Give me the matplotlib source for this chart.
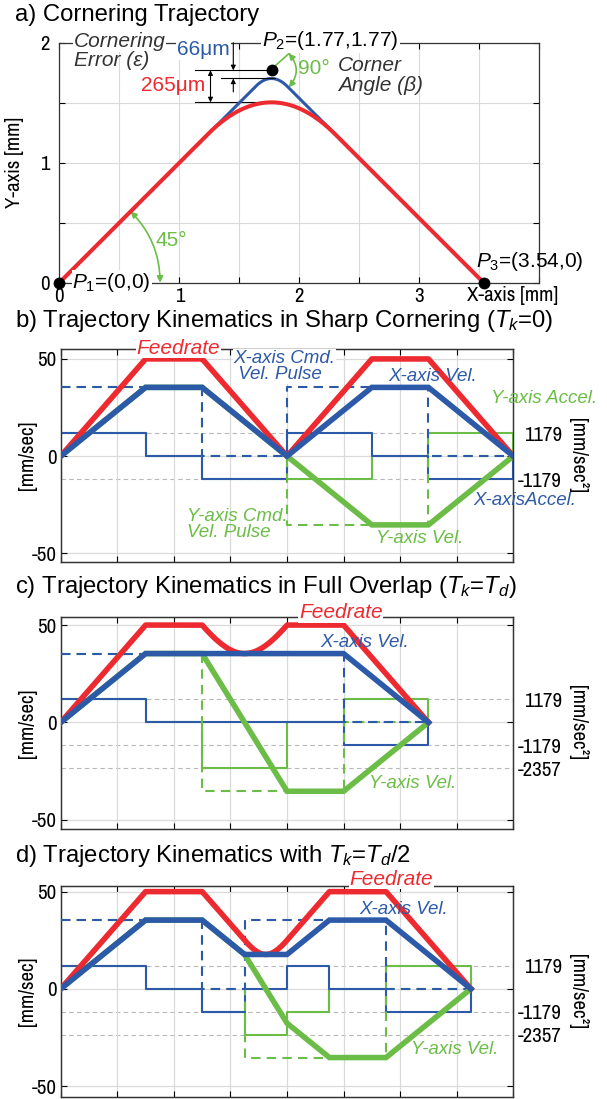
import numpy as np
import matplotlib
matplotlib.use('Agg')
import matplotlib.pyplot as plt
from matplotlib import font_manager as fm
from matplotlib.patches import FancyArrowPatch

RED = '#ec2a2f'
BLUE = '#2d5aa8'
GREEN = '#6cbd47'
GRID = '#dadada'
DGRID = '#b8b8b8'
INK = '#333333'

# narrow face for ticks / axis labels (falls back to a smaller regular face)
font_names = {f.name for f in fm.fontManager.ttflist}
WIDE = ['Liberation Sans', 'DejaVu Sans']
NARROW = ['Liberation Sans', 'DejaVu Sans']
TS = 13
for cand in ['Liberation Sans Narrow', 'Archivo Narrow', 'Roboto Condensed', 'Sofia Sans Condensed']:
    if cand in font_names:
        NARROW = [cand, 'DejaVu Sans']
        TS = 15
        break
plt.rcParams['font.family'] = NARROW
plt.rcParams['axes.unicode_minus'] = False
plt.rcParams['mathtext.fontset'] = 'custom'
plt.rcParams['mathtext.rm'] = 'Liberation Sans'
plt.rcParams['mathtext.it'] = 'Liberation Sans:italic'

# ---- data: time in ms, velocity in mm/sec, acceleration in mm/sec^2 ----
# a) corner points [mm]
corner_x = [0, 1.77, 3.54]
corner_y = [0, 1.77, 0]

# b) sharp cornering (Tk = 0)
t_b = [0, 30, 50, 80, 110, 130, 160]
vx_b = [0, 35.36, 35.36, 0, 35.36, 35.36, 0]
vy_b = [0, 35.36, 35.36, 0, -35.36, -35.36, 0]
accx_b = [1179, 0, -1179, 1179, 0, -1179, 0]
accy_b = [1179, 0, -1179, -1179, 0, 1179, 0]
tp_b = [0, 50, 80, 130, 160]
px_b = [35.36, 0, 35.36, 0, 0]
py_b = [35.36, 0, -35.36, 0, 0]

# c) full overlap (Tk = Td)
t_c = [0, 30, 50, 80, 100, 130]
vx_c = [0, 35.36, 35.36, 35.36, 35.36, 0]
vy_c = [0, 35.36, 35.36, -35.36, -35.36, 0]
accx_c = [1179, 0, 0, 0, -1179, 0]
accy_c = [1179, 0, -2357, 0, 1179, 0]
tp_c = [0, 50, 100, 130]
px_c = [35.36, 35.36, 0, 0]
py_c = [35.36, -35.36, 0, 0]

# d) half overlap (Tk = Td/2)
t_d = [0, 30, 50, 65, 80, 95, 115, 145]
vx_d = [0, 35.36, 35.36, 17.68, 17.68, 35.36, 35.36, 0]
vy_d = [0, 35.36, 35.36, 17.68, -17.68, -35.36, -35.36, 0]
accx_d = [1179, 0, -1179, 0, 1179, 0, -1179, 0]
accy_d = [1179, 0, -1179, -2357, -1179, 0, 1179, 0]
tp_d = [0, 50, 65, 115, 145]
px_d = [35.36, 0, 35.36, 0, 0]
py_d = [35.36, 0, -35.36, 0, 0]


def fine(t, vx, vy, n=3000):
    tt = np.linspace(t[0], t[-1], n)
    return tt, np.interp(tt, t, vx), np.interp(tt, t, vy)


def path(t, vx, vy):
    # tool path = time integral of the axis velocities
    tt, vxi, vyi = fine(t, vx, vy)
    dt = np.diff(tt) / 1000.0
    x = np.concatenate([[0], np.cumsum((vxi[1:] + vxi[:-1]) / 2 * dt)])
    y = np.concatenate([[0], np.cumsum((vyi[1:] + vyi[:-1]) / 2 * dt)])
    return x, y


W, H = 607, 1099


def rect(left, top, right, bottom):
    return [left / W, 1 - bottom / H, (right - left) / W, (bottom - top) / H]


fig = plt.figure(figsize=(W / 100, H / 100), dpi=100)

# ---------------- a) cornering trajectory ----------------
axa = fig.add_axes(rect(59.3, 42.7, 539.3, 282.7))
xr, yr = path(t_c, vx_c, vy_c)
xb, yb = path(t_d, vx_d, vy_d)
axa.plot(xb, yb, color=BLUE, lw=2.2, zorder=3)
axa.plot(xr, yr, color=RED, lw=2.9, zorder=4)
axa.plot(corner_x, corner_y, 'o', color='black', ms=7.5, ls='none', zorder=8, clip_on=False)
axa.set_xlim(0, 4)
axa.set_ylim(0, 2)
axa.set_xticks(np.arange(0, 4.01, 0.5))
axa.set_xticklabels(['0', '', '1', '', '2', '', '3', '', ''])
axa.set_yticks(np.arange(0, 2.01, 0.5))
axa.set_yticklabels(['0', '', '1', '', '2'])
axa.grid(True, color=GRID, lw=0.8)
axa.set_axisbelow(True)
axa.tick_params(direction='in', top=True, right=True, length=4, labelsize=TS, width=0.8)
axa.tick_params(axis='y', pad=7)
axa.tick_params(axis='x', pad=3)
for s in axa.spines.values():
    s.set_color(INK)
    s.set_linewidth(0.9)
axa.set_ylabel('Y-axis [mm]', fontsize=TS)
axa.yaxis.set_label_coords(-0.0735, 0.5)
axa.text(3.78, -0.11, 'X-axis [mm]', fontsize=TS, ha='center', va='center', clip_on=False)

red_top = yr.max()
blue_top = yb.max()
p2y = corner_y[1]
wbox = dict(facecolor='white', edgecolor='none', pad=0.6)
axa.text(0.12, 2.01, 'Cornering', fontsize=15, style='italic', color=INK, family=WIDE,
         ha='left', va='center', bbox=wbox, zorder=10, clip_on=False)
axa.text(0.12, 1.85, 'Error (ε)', fontsize=15, style='italic', color=INK, family=WIDE,
         ha='left', va='center', zorder=10)
axa.text(1.42, 1.94, '66μm', fontsize=15, color=BLUE, family=WIDE, ha='right', va='center',
         bbox=wbox, zorder=10, clip_on=False)
axa.text(1.22, 1.64, '265μm', fontsize=15, color=RED, family=WIDE, ha='right', va='center', zorder=10)
axa.text(2.26, 2.02, r'$P_2$=(1.77,1.77)', fontsize=15, family=WIDE, ha='center', va='center',
         bbox=wbox, zorder=10, clip_on=False)
axa.text(2.12, 1.785, '90°', fontsize=15, color=GREEN, family=WIDE, ha='center', va='center', zorder=10)
axa.text(2.32, 1.81, 'Corner', fontsize=15, style='italic', color=INK, family=WIDE, ha='left', va='center')
axa.text(2.32, 1.645, 'Angle (β)', fontsize=15, style='italic', color=INK, family=WIDE, ha='left', va='center')
axa.text(0.93, 0.35, '45°', fontsize=15, color=GREEN, family=WIDE, ha='center', va='center')
axa.text(3.47, 0.18, r'$P_3$=(3.54,0)', fontsize=15, family=WIDE, ha='left', va='center')
axa.text(0.11, 0.0, r'$P_1$=(0,0)', fontsize=15, family=WIDE, ha='left', va='center',
         bbox=wbox, zorder=10, clip_on=False)

# dimension lines
axa.plot([1.13, 1.77], [p2y, p2y], color='black', lw=0.8, zorder=5)
axa.plot([1.35, 1.80], [blue_top, blue_top], color='black', lw=0.8, zorder=5)
axa.plot([1.13, 1.83], [red_top, red_top], color='black', lw=0.8, zorder=2)
axa.annotate('', xy=(1.26, red_top), xytext=(1.26, p2y),
             arrowprops=dict(arrowstyle='<|-|>', color='black', lw=0.8, mutation_scale=7,
                             shrinkA=0, shrinkB=0))
axa.annotate('', xy=(1.45, p2y), xytext=(1.45, 2.0),
             arrowprops=dict(arrowstyle='-|>', color='black', lw=0.8, mutation_scale=7,
                             shrinkA=0, shrinkB=0))
axa.annotate('', xy=(1.45, blue_top), xytext=(1.45, 1.59),
             arrowprops=dict(arrowstyle='-|>', color='black', lw=0.8, mutation_scale=7,
                             shrinkA=0, shrinkB=0))
# angle arcs
r45 = 0.84
axa.add_patch(FancyArrowPatch((r45, 0), (r45 * np.cos(np.pi / 4), r45 * np.sin(np.pi / 4)),
                              connectionstyle='arc3,rad=0.2', arrowstyle='<|-|>',
                              mutation_scale=9, color=GREEN, lw=1.2, shrinkA=0, shrinkB=0))
r90 = 0.2
axa.add_patch(FancyArrowPatch((corner_x[1] + r90 * np.cos(np.pi / 4), p2y + r90 * np.sin(np.pi / 4)),
                              (corner_x[1] + r90 * np.cos(np.pi / 4), p2y - r90 * np.sin(np.pi / 4)),
                              connectionstyle='arc3,rad=-0.414', arrowstyle='<|-|>',
                              mutation_scale=9, color=GREEN, lw=1.2, shrinkA=0, shrinkB=0))
axa.plot([1.79, 1.96], [1.80, 1.95], color=GREEN, lw=1.2, zorder=5)

fig.text(15 / W, 1 - 21 / H, 'a) Cornering Trajectory', fontsize=17.2, family=WIDE,
         ha='left', va='baseline')


# ---------------- b), c), d) kinematics ----------------
def kin_panel(box, ylim, t, vx, vy, accx, accy, tp, px, py, acc_ticks):
    ax = fig.add_axes(rect(*box))
    ax2 = ax.twinx()
    ax.set_zorder(ax2.get_zorder() + 1)
    ax.patch.set_visible(False)

    tt, vxi, vyi = fine(t, vx, vy)
    feed = np.hypot(vxi, vyi)

    ax.step(t, accy, where='post', color=GREEN, lw=1.5, transform=ax2.transData, zorder=2)
    ax.step(t, accx, where='post', color=BLUE, lw=1.5, transform=ax2.transData, zorder=2.1)
    ax.step(tp, py, where='post', color=GREEN, lw=1.5, dashes=(4.5, 3), zorder=3)
    ax.step(tp, px, where='post', color=BLUE, lw=1.5, dashes=(4.5, 3), zorder=3.1)
    ax.plot(t, vy, color=GREEN, lw=4, zorder=4, solid_joinstyle='miter')
    ax.plot(tt, feed, color=RED, lw=4, zorder=5)
    ax.plot(t, vx, color=BLUE, lw=4, zorder=6, solid_joinstyle='miter')

    ax.set_xlim(0, 160)
    ax.set_ylim(*ylim)
    ax2.set_ylim(ylim[0] * 100, ylim[1] * 100)
    ax.set_xticks(np.arange(0, 161, 20))
    ax.set_yticks([-50, 0, 50])
    ax.grid(True, color=GRID, lw=0.9)
    ax.set_axisbelow(True)
    ax.tick_params(direction='in', top=True, right=True, length=4, width=0.8,
                   labelbottom=False, labelsize=TS, pad=3)
    ax2.set_yticks(acc_ticks)
    ax2.set_yticklabels([str(v) for v in acc_ticks])
    ax2.tick_params(length=0, labelsize=TS, pad=35)
    for lbl in ax2.get_yticklabels():
        lbl.set_horizontalalignment('right')
    ax2.yaxis.grid(True, color=DGRID, lw=0.8, dashes=(4, 3))
    for a in (ax, ax2):
        for s in a.spines.values():
            s.set_color(INK)
            s.set_linewidth(0.9)
    ax.set_ylabel('[mm/sec]', fontsize=TS)
    ax.yaxis.set_label_coords(-0.052, 0.5)
    ax2.set_ylabel('[mm/sec²]', fontsize=TS, rotation=270, va='center', ha='center')
    ax2.yaxis.set_label_coords(1.143, 0.5)
    return ax


def note(ax, x, y, s, color, size=13.5, ha='center', box=False):
    kw = dict(fontsize=size, style='italic', color=color, family=WIDE, ha=ha, va='center',
              zorder=10, clip_on=False, linespacing=0.95)
    if box:
        kw['bbox'] = dict(facecolor='white', edgecolor='none', pad=0.5)
    ax.text(x, y, s, **kw)


axb = kin_panel((60.7, 349, 513.3, 562.3), (-54.6, 55.1), t_b, vx_b, vy_b, accx_b, accy_b,
                tp_b, px_b, py_b, [1179, -1179])
note(axb, 41.6, 55.5, 'Feedrate', RED, 15, box=True)
note(axb, 61, 46.0, 'X-axis Cmd.\n Vel. Pulse', BLUE, ha='left', box=True)
note(axb, 131.4, 40.7, 'X-axis Vel.', BLUE)
note(axb, 171, 29.7, 'Y-axis Accel.', GREEN)
note(axb, 164, -22.9, 'X-axisAccel.', BLUE)
note(axb, 44.6, -35.1, 'Y-axis Cmd.\nVel. Pulse', GREEN, ha='left')
note(axb, 127, -42.4, 'Y-axis Vel.', GREEN)
fig.text(15 / W, 1 - 326.5 / H, r'b) Trajectory Kinematics in Sharp Cornering ($T_k$=0)',
         fontsize=17.2, family=WIDE, ha='left', va='baseline')

axc = kin_panel((60.7, 616.5, 513.3, 829.3), (-54.9, 54.4), t_c, vx_c, vy_c, accx_c, accy_c,
                tp_c, px_c, py_c, [1179, -1179, -2357])
note(axc, 99, 56.5, 'Feedrate', RED, 15, box=True)
note(axc, 107.6, 41, 'X-axis Vel.', BLUE)
note(axc, 124.6, -31.3, 'Y-axis Vel.', GREEN)
fig.text(15 / W, 1 - 593.5 / H, r'c) Trajectory Kinematics in Full Overlap ($T_k$=$T_d$)',
         fontsize=17.2, family=WIDE, ha='left', va='baseline')

axd = kin_panel((60.7, 886, 513.3, 1097.3), (-55.8, 52.9), t_d, vx_d, vy_d, accx_d, accy_d,
                tp_d, px_d, py_d, [1179, -1179, -2357])
note(axd, 116.8, 56.5, 'Feedrate', RED, 15, box=True)
note(axd, 121.4, 40.6, 'X-axis Vel.', BLUE)
note(axd, 139.4, -31, 'Y-axis Vel.', GREEN)
fig.text(15 / W, 1 - 861.7 / H, r'd) Trajectory Kinematics with $T_k$=$T_d$/2',
         fontsize=17.2, family=WIDE, ha='left', va='baseline')

fig.savefig('out.png', dpi=100)
